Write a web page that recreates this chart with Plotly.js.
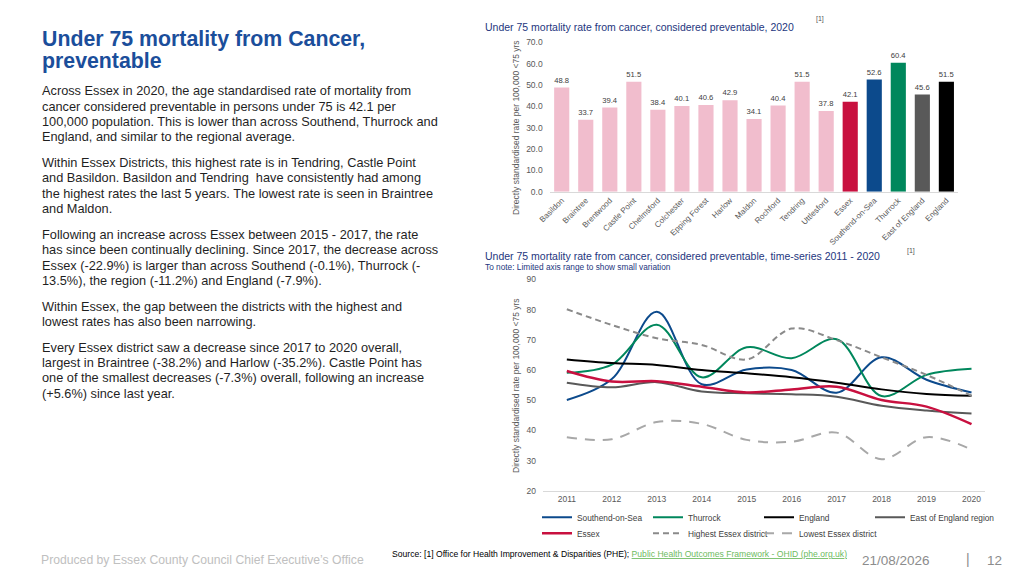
<!DOCTYPE html>
<html><head><meta charset="utf-8">
<script src="https://cdn.plot.ly/plotly-3.0.1.min.js"></script>
<style>html,body{margin:0;padding:0;background:#fff}#chart{width:1024px;height:575px}</style>
</head><body><div id="chart"></div>
<script>
// ---------- DATA ----------
const barCategories = ["Basildon","Braintree","Brentwood","Castle Point","Chelmsford","Colchester","Epping Forest","Harlow","Maldon","Rochford","Tendring","Uttlesford","Essex","Southend-on-Sea","Thurrock","East of England","England"];
const barValues2020 = [48.8,33.7,39.4,51.5,38.4,40.1,40.6,42.9,34.1,40.4,51.5,37.8,42.1,52.6,60.4,45.6,51.5];

const years = [2011,2012,2013,2014,2015,2016,2017,2018,2019,2020];
const southend = [50.1,57.0,79.3,55.3,60.2,60.0,52.5,64.2,56.8,52.6];
const thurrock = [59.1,61.8,75.0,57.6,67.5,63.9,70.2,51.4,58.4,60.4];
const england  = [63.5,62.3,61.7,60.0,58.9,57.6,55.8,53.6,52.1,51.5];
const essex    = [59.7,56.2,56.3,54.5,52.6,53.6,54.5,50.1,47.9,42.1];
const eastOfEngland = [55.8,54.3,56.0,52.9,52.3,52.0,51.2,48.2,46.6,45.6];
const highestDistrict = [80.1,74.9,70.5,68.3,63.5,73.7,69.9,64.2,58.4,51.5];
const lowestDistrict  = [37.8,37.1,42.8,42.2,36.9,36.3,39.3,30.5,37.8,33.7];

const headline = ["Under 75 mortality from Cancer,","preventable"];
const paragraphs = [
  ["Across Essex in 2020, the age standardised rate of mortality from",
   "cancer considered preventable in persons under 75 is 42.1 per",
   "100,000 population. This is lower than across Southend, Thurrock and",
   "England, and similar to the regional average."],
  ["Within Essex Districts, this highest rate is in Tendring, Castle Point",
   "and Basildon. Basildon and Tendring  have consistently had among",
   "the highest rates the last 5 years. The lowest rate is seen in Braintree",
   "and Maldon."],
  ["Following an increase across Essex between 2015 - 2017, the rate",
   "has since been continually declining. Since 2017, the decrease across",
   "Essex (-22.9%) is larger than across Southend (-0.1%), Thurrock (-",
   "13.5%), the region (-11.2%) and England (-7.9%)."],
  ["Within Essex, the gap between the districts with the highest and",
   "lowest rates has also been narrowing."],
  ["Every Essex district saw a decrease since 2017 to 2020 overall,",
   "largest in Braintree (-38.2%) and Harlow (-35.2%). Castle Point has",
   "one of the smallest decreases (-7.3%) overall, following an increase",
   "(+5.6%) since last year."]
];

// ---------- STYLE ----------
const W = 1024, H = 575;
const px = x => x / W, py = y => 1 - y / H;
const FONT = "Liberation Sans, Arial, sans-serif";
const PINK = "#f1bdcd", RED = "#c8103f", BLUE = "#0c4a8c", GREEN = "#00875c", DGREY = "#595959";
const NAVY = "#24367e", TXT = "#1f1f1f", AX = "#595959";

const specialColors = {"Essex":RED,"Southend-on-Sea":BLUE,"Thurrock":GREEN,"East of England":DGREY,"England":"#000000"};
const barColors = barCategories.map(c => specialColors[c] || PINK);

const traces = [
  {type:"bar", x:barCategories, y:barValues2020, xaxis:"x", yaxis:"y",
   marker:{color:barColors}, text:barValues2020.map(v=>v.toFixed(1)), textposition:"outside",
   textfont:{family:FONT,size:8.5,color:"#404040"}, cliponaxis:false, showlegend:false, hoverinfo:"x+y"},
];
const lineSpec = [
  ["Southend-on-Sea", southend, BLUE, 2, "solid", "legend"],
  ["Thurrock", thurrock, GREEN, 2, "solid", "legend"],
  ["England", england, "#000000", 2, "solid", "legend"],
  ["East of England region", eastOfEngland, DGREY, 2, "solid", "legend"],
  ["Essex", essex, RED, 2.5, "solid", "legend2"],
  ["Highest Essex district", highestDistrict, "#8a8a8a", 2, "6px,4px", "legend2"],
  ["Lowest Essex district", lowestDistrict, "#a8a8a8", 2, "10px,8px", "legend2"],
];
lineSpec.forEach(([name, vals, col, w, dash, lg]) => traces.push({
  type:"scatter", mode:"lines", name:name, x:years, y:vals, xaxis:"x2", yaxis:"y2",
  line:{color:col, width:w, dash:dash, shape:"spline", smoothing:1}, legend:lg
}));
// empty legend spacers so the last legend entries are not clipped
["legend","legend2"].forEach(lg => traces.push({
  type:"scatter", mode:"lines", name:" ", x:[null], y:[null], xaxis:"x2", yaxis:"y2",
  line:{width:0, color:"rgba(0,0,0,0)"}, legend:lg, hoverinfo:"skip"
}));

const annotations = [];
const ann = (text, x, y, size, color, extra) => annotations.push(Object.assign({text:text, x:px(x), y:py(y), xref:"paper", yref:"paper",
  xanchor:"left", yanchor:"middle", showarrow:false, font:{family:FONT,size:size,color:color}}, extra||{}));
// headline
headline.forEach((t,i)=>ann("<b>"+t+"</b>", 40, 39+i*22, 21.3, "#1b4e9b"));
// body
let yy = 90.7;
paragraphs.forEach((para,pi)=>{
  if (pi>0) yy += 10.2;
  para.forEach(line=>{ ann(line, 40, yy, 12.75, TXT); yy += 15.4; });
});
// chart titles
ann("Under 75 mortality rate from cancer, considered preventable, 2020", 483, 27, 10.5, NAVY);
ann("[1]", 814, 19, 7, "#555");
ann("Under 75 mortality rate from cancer, considered preventable, time-series 2011 - 2020", 483, 256, 10.5, NAVY);
ann("[1]", 905, 251, 7, "#555");
ann("To note: Limited axis range to show small variation", 483, 266.5, 8.3, NAVY);
// y-axis titles
const ytitle = "Directly standardised rate per 100,000 <75 yrs";
ann(ytitle, 516, 128, 8.5, AX, {xanchor:"center", textangle:-90});
ann(ytitle, 516, 386, 8.5, AX, {xanchor:"center", textangle:-90});
// footer
ann("Produced by Essex County Council Chief Executive’s Office", 39, 560, 12.2, "#c0c0c0");
ann("Source: [1] Office for Health Improvement & Disparities (PHE); <span style='color:#6dbb5f'><u>Public Health Outcomes Framework - OHID (phe.org.uk)</u></span>", 390, 554, 8.6, "#000");
ann("21/08/2026", 860, 560, 13.5, "#8c8c8c");
ann("|", 968, 559, 14, "#8c8c8c", {xanchor:"center"});
ann("12", 985, 560, 13.5, "#8c8c8c");

const tickFont = {family:FONT,size:8.5,color:AX};
const legendBase = {orientation:"h", xanchor:"left", yanchor:"middle", bgcolor:"rgba(0,0,0,0)",
  font:{family:FONT,size:8.3,color:"#404040"}, entrywidth:66, entrywidthmode:"pixels", itemwidth:30, traceorder:"normal"};
const layout = {
  width:W, height:H, margin:{l:0,r:0,t:0,b:0,autoexpand:false},
  paper_bgcolor:"#fff", plot_bgcolor:"rgba(0,0,0,0)",
  font:{family:FONT,color:AX},
  bargap:0.37,
  xaxis:{domain:[px(549.7),px(958.4)], range:[-0.5,16.5], anchor:"y", tickangle:-45, tickfont:{family:FONT,size:8,color:AX},
    showline:true, linecolor:"#d9d9d9", linewidth:1, ticks:"", showgrid:false, zeroline:false, fixedrange:true},
  yaxis:{domain:[py(191.7),py(42.3)], range:[0,70], dtick:10, tickformat:".1f", anchor:"x", tickfont:tickFont,
    showgrid:false, zeroline:false, showline:false, ticks:"", ticklabelstandoff:6, fixedrange:true},
  xaxis2:{domain:[px(543),px(985)], range:[2010.47,2020.3], anchor:"y2", tickvals:years, ticktext:years.map(String), tickfont:tickFont,
    showline:true, linecolor:"#d9d9d9", linewidth:1, ticks:"", showgrid:false, zeroline:false, fixedrange:true},
  yaxis2:{domain:[py(491),py(279.3)], range:[20,90], dtick:10, anchor:"x2", tickfont:tickFont,
    showgrid:false, zeroline:false, showline:false, ticks:"", ticklabelstandoff:6, fixedrange:true},
  legend:Object.assign({x:px(537), y:py(517.3)}, legendBase),
  legend2:Object.assign({x:px(537), y:py(533.3)}, legendBase),
  annotations:annotations,
  showlegend:true
};
Plotly.newPlot("chart", traces, layout, {displayModeBar:false, responsive:false});
</script>
</body></html>
